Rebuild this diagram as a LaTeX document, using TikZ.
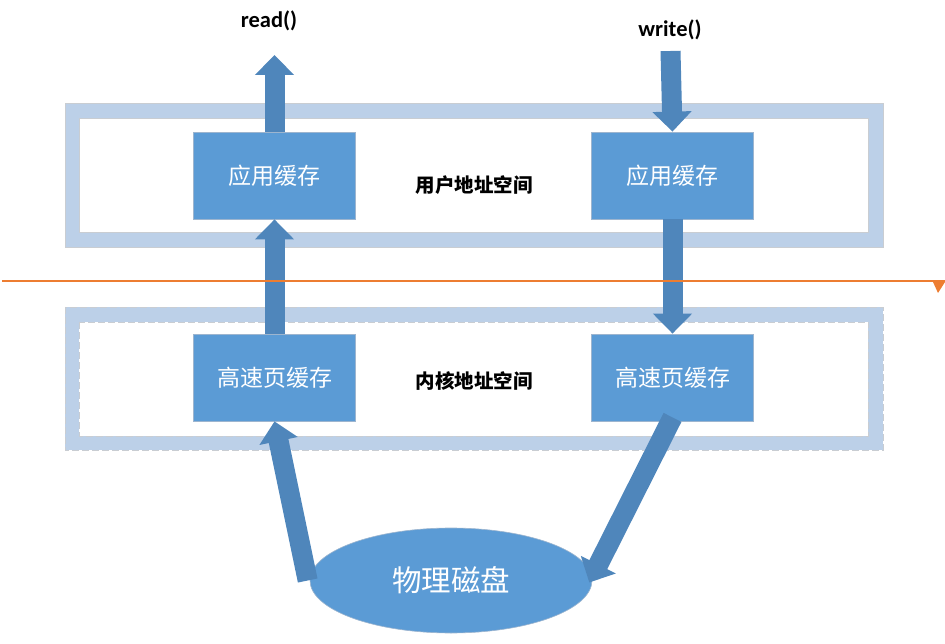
\documentclass[tikz,border=0pt]{standalone}
\usepackage{fontspec}
\setmainfont{Carlito}
\newfontfamily\cjk{Noto Sans CJK SC}
\usetikzlibrary{arrows.meta,shapes.geometric}
\definecolor{boxfill}{HTML}{5B9BD5}
\definecolor{boxedge}{HTML}{9DB5CF}
\definecolor{arrowfill}{HTML}{4F86BB}
\definecolor{framefill}{HTML}{BCD0E8}
\definecolor{frameedge}{HTML}{C9CDD2}
\definecolor{lineorange}{HTML}{ED7D31}
\tikzset{
  cachebox/.style={draw=boxedge, line width=0.8pt, fill=boxfill, minimum width=162pt, minimum height=87pt, inner sep=0pt, text=white, font=\cjk\fontsize{23}{25}\selectfont},
  spacelabel/.style={font=\cjk\bfseries\fontsize{19.5}{22}\selectfont, text=black, inner sep=0pt},
  calllabel/.style={font=\bfseries\fontsize{22.5}{25}\selectfont, text=black, inner sep=0pt},
  blockarrow/.style={draw=arrowfill, line width=20pt, -{Triangle[width=38pt,length=20pt]}},
  framefat/.style={draw=framefill, line width=14.5pt},
  frameline/.style={draw=frameedge, line width=0.9pt},
  framedash/.style={draw=frameedge, line width=0.9pt, dash pattern=on 7pt off 3pt},
}
\begin{document}
\begin{tikzpicture}[x=1pt,y=-1pt]
\useasboundingbox (0,0) rectangle (945,644);
% user space frame
\draw[framefat] (72,110.5) rectangle (875.5,239.5);
\draw[frameline] (65,103) rectangle (883,247);
\draw[frameline] (79.5,118) rectangle (868,232);
% kernel space frame
\draw[framefat] (72,314.5) rectangle (875.5,443);
\draw[framedash] (65,307) rectangle (883,450);
\draw[framedash] (79.5,322) rectangle (868,436);
% boxes
\node[cachebox] (ul) at (274.5,175.5) {应用缓存};
\node[cachebox] (ur) at (672.5,175.5) {应用缓存};
\node[cachebox] (ll) at (274.5,377.5) {高速页缓存};
\node[cachebox] (lr) at (672.5,377.5) {高速页缓存};
\node[spacelabel] (us) at (474,185) {用户地址空间};
\node[spacelabel] (ks) at (474,381) {内核地址空间};
\node[calllabel] (rd) at (269,21) {read()};
\node[calllabel] (wr) at (670,30) {write()};
% disk
\node[ellipse, fill=boxfill, draw=boxedge, line width=0.6pt, minimum width=282pt, minimum height=105pt, inner sep=0pt, text=white, font=\cjk\fontsize{29.5}{32}\selectfont] (disk) at (451,580.5) {物理磁盘};
% arrows
\coordinate (readtip) at (274.5,55);
\coordinate (writetail) at (670.5,51);
\draw[blockarrow] (ul.north) -- (readtip);
\draw[blockarrow] (writetail) -- (ur.north);
\draw[blockarrow] (ll.north) -- (ul.south);
\draw[blockarrow] (ur.south) -- (lr.north);
\draw[blockarrow] ([xshift=-2pt]disk.west) -- (ll.south);
\draw[blockarrow] ([yshift=4pt]lr.south) -- ([xshift=-3pt,yshift=-2pt]disk.east);
% orange separator
\coordinate (sepstart) at (2,281);
\coordinate (sepend) at (945,281);
\draw[lineorange, line width=2.8pt] (sepstart) -- (sepend);
\fill[lineorange] ([xshift=-12pt,yshift=-1pt]sepend) -- ([yshift=-1pt]sepend) -- ([xshift=-7pt,yshift=-12pt]sepend) -- cycle;
\end{tikzpicture}
\end{document}
